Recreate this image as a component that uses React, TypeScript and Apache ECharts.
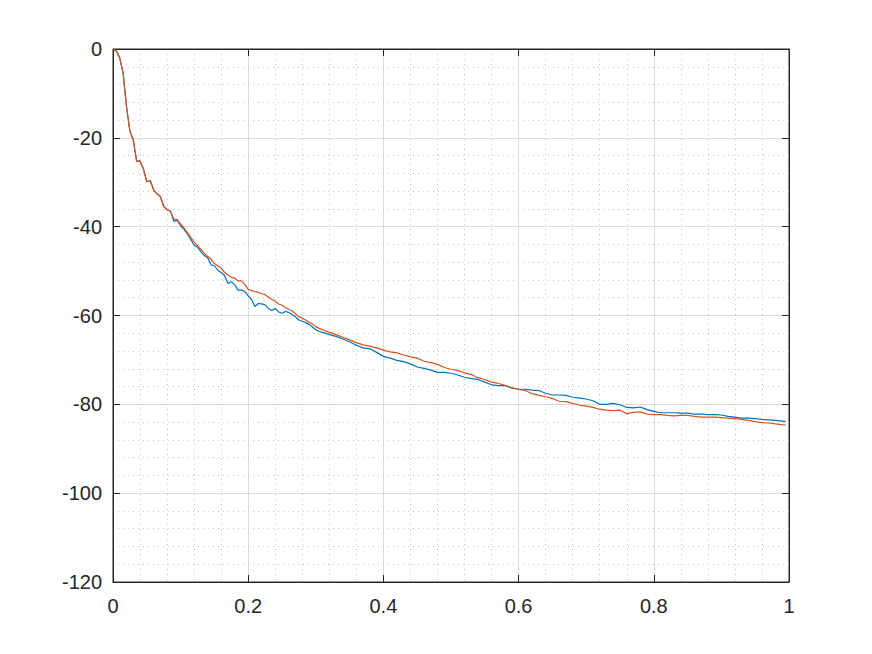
import React, { useEffect, useRef } from "react";
import * as echarts from "echarts";

const xValues: number[] = [
  0, 0.005, 0.01, 0.015, 0.02, 0.025, 0.03, 0.035, 0.04, 0.045, 0.05, 0.055, 0.06, 0.065,
  0.07, 0.075, 0.08, 0.085, 0.09, 0.095, 0.1, 0.105, 0.11, 0.115, 0.12, 0.125, 0.13, 0.135,
  0.14, 0.145, 0.15, 0.155, 0.16, 0.165, 0.17, 0.175, 0.18, 0.185, 0.19, 0.195, 0.2, 0.205,
  0.21, 0.215, 0.22, 0.225, 0.23, 0.235, 0.24, 0.245, 0.25, 0.255, 0.26, 0.265, 0.27, 0.275,
  0.28, 0.285, 0.29, 0.295, 0.3, 0.305, 0.31, 0.32, 0.33, 0.34, 0.35, 0.36, 0.37, 0.38, 0.39,
  0.4, 0.41, 0.42, 0.43, 0.44, 0.45, 0.46, 0.47, 0.48, 0.49, 0.5, 0.51, 0.52, 0.53, 0.54, 0.55,
  0.56, 0.57, 0.58, 0.59, 0.6, 0.61, 0.62, 0.63, 0.64, 0.65, 0.66, 0.67, 0.68, 0.69, 0.7, 0.71,
  0.72, 0.73, 0.74, 0.75, 0.76, 0.77, 0.78, 0.79, 0.8, 0.81, 0.82, 0.83, 0.84, 0.85, 0.86, 0.87,
  0.88, 0.89, 0.9, 0.91, 0.92, 0.93, 0.94, 0.95, 0.96, 0.97, 0.98, 0.99, 0.995,
];

const blueValues: number[] = [
  0, -0.5, -2, -5.5, -13, -18.5, -20.5, -25.3, -25.2, -27, -29.9, -29.6, -31.7, -32.6,
  -33.2, -35.4, -36.2, -36.5, -38.8, -38.6, -39.8, -40.6, -41.6, -42.8, -44.2, -44.6, -45.6, -46.5,
  -47.0, -48.6, -48.8, -49.8, -50.3, -51.0, -52.8, -52.4, -53.1, -54.3, -54.3, -54.6, -55.6, -56.4,
  -58.0, -57.3, -57.4, -57.6, -58.4, -58.9, -58.4, -59.2, -59.5, -59.1, -59.3, -59.8, -60.3, -61.0,
  -61.3, -61.6, -62.0, -62.6, -63.2, -63.6, -63.8, -64.3, -64.7, -65.3, -65.9, -66.7, -67.3, -67.5, -68.3,
  -69.2, -69.6, -70.1, -70.4, -70.9, -71.6, -71.9, -72.3, -72.8, -72.8, -73.0, -73.4, -73.9, -74.2, -74.4, -75.0,
  -75.6, -75.8, -75.8, -76.3, -76.6, -76.6, -76.8, -76.9, -77.5, -77.9, -77.9, -78.0, -78.4, -78.6, -78.8, -79.2,
  -80.0, -80.0, -79.8, -80.1, -80.7, -80.8, -80.6, -81.2, -81.6, -81.9, -81.9, -81.9, -82.0, -82.0, -82.2, -82.2,
  -82.3, -82.3, -82.4, -82.7, -82.9, -83.1, -83.1, -83.2, -83.4, -83.5, -83.6, -83.8, -83.9,
];

const orangeValues: number[] = [
  0, -0.5, -2, -5.5, -13, -18.5, -20.5, -25.3, -25.2, -27, -29.9, -29.6, -31.7, -32.6,
  -33.2, -35.4, -36.2, -36.5, -38.3, -38.4, -39.4, -40.3, -41.3, -42.4, -43.4, -44.3, -45.1, -46.0,
  -46.7, -47.3, -48.3, -48.8, -49.3, -50.3, -50.9, -51.4, -51.6, -52.2, -52.2, -53.0, -54.1, -54.4,
  -54.6, -54.8, -55.1, -55.3, -55.9, -56.4, -56.8, -57.4, -57.7, -58.2, -58.6, -59.0, -59.6, -60.3,
  -60.6, -61.0, -61.5, -61.9, -62.5, -62.9, -63.2, -63.8, -64.3, -64.9, -65.5, -66.1, -66.6, -66.9, -67.3,
  -67.8, -68.2, -68.4, -68.9, -69.3, -69.6, -70.3, -70.6, -71.0, -71.7, -72.1, -72.4, -72.9, -73.3, -74.0, -74.4,
  -75.0, -75.3, -75.7, -76.3, -76.6, -76.9, -77.6, -78.0, -78.3, -78.7, -79.3, -79.4, -79.8, -80.2, -80.4, -80.7,
  -81.1, -81.3, -81.4, -81.3, -82.1, -81.8, -81.7, -82.2, -82.3, -82.3, -82.5, -82.6, -82.5, -82.5, -82.7, -82.9,
  -82.9, -82.9, -83.0, -83.1, -83.2, -83.4, -83.6, -83.9, -84.1, -84.2, -84.4, -84.6, -84.7,
];

const xTickLabels: string[] = ["0", "0.2", "0.4", "0.6", "0.8", "1"];

export default function App() {
  const ref = useRef<HTMLDivElement>(null);

  useEffect(() => {
    if (!ref.current) return;
    const chart = echarts.init(ref.current, null, { renderer: "svg" });
    const textColor = "#262626";
    const font = "Liberation Sans";
    const majorGrid = { show: true, lineStyle: { color: "#dcdcdc", width: 1, type: "solid" as const } };
    const minorGrid = { show: true, lineStyle: { color: "#c4c4c4", width: 1, type: [1, 4] as any } };
    const blueData = xValues.map((x, i) => [x, blueValues[i]]);
    const orangeData = xValues.map((x, i) => [x, orangeValues[i]]);

    chart.setOption({
      animation: false,
      backgroundColor: "#ffffff",
      grid: {
        left: 113,
        right: 83,
        top: 49,
        bottom: 72,
        show: true,
        borderColor: textColor,
        borderWidth: 1,
        backgroundColor: "transparent",
      },
      xAxis: [
        {
          type: "value",
          min: 0,
          max: 1,
          interval: 0.2,
          position: "bottom",
          axisLine: { show: true, onZero: false, lineStyle: { color: textColor } },
          axisTick: { show: true, inside: true, length: 7, lineStyle: { color: textColor } },
          axisLabel: {
            color: textColor,
            fontFamily: font,
            fontSize: 20,
            margin: 14,
            formatter: (v: number) => xTickLabels[Math.round(v / 0.2)] ?? String(v),
          },
          splitLine: majorGrid,
          minorTick: { show: false, splitNumber: 5 },
          minorSplitLine: minorGrid,
        },
        {
          type: "value",
          min: 0,
          max: 1,
          interval: 0.2,
          position: "top",
          axisLine: { show: true, onZero: false, lineStyle: { color: textColor } },
          axisTick: { show: true, inside: true, length: 7, lineStyle: { color: textColor } },
          axisLabel: { show: false },
          splitLine: { show: false },
        },
      ],
      yAxis: [
        {
          type: "value",
          min: -120,
          max: 0,
          interval: 20,
          position: "left",
          axisLine: { show: true, onZero: false, lineStyle: { color: textColor } },
          axisTick: { show: true, inside: true, length: 7, lineStyle: { color: textColor } },
          axisLabel: { color: textColor, fontFamily: font, fontSize: 20, margin: 11 },
          splitLine: majorGrid,
          minorTick: { show: false, splitNumber: 5 },
          minorSplitLine: minorGrid,
        },
        {
          type: "value",
          min: -120,
          max: 0,
          interval: 20,
          position: "right",
          axisLine: { show: true, onZero: false, lineStyle: { color: textColor } },
          axisTick: { show: true, inside: true, length: 7, lineStyle: { color: textColor } },
          axisLabel: { show: false },
          splitLine: { show: false },
        },
      ],
      series: [
        {
          type: "line",
          data: blueData,
          showSymbol: false,
          lineStyle: { color: "#0072BD", width: 1.2 },
          itemStyle: { color: "#0072BD" },
        },
        {
          type: "line",
          data: orangeData,
          showSymbol: false,
          lineStyle: { color: "#D95319", width: 1.2 },
          itemStyle: { color: "#D95319" },
        },
      ],
    });
    return () => chart.dispose();
  }, []);

  return (
    <div
      ref={ref}
      style={{ position: "fixed", left: 0, top: 0, width: 872, height: 654, background: "#fff" }}
    />
  );
}
